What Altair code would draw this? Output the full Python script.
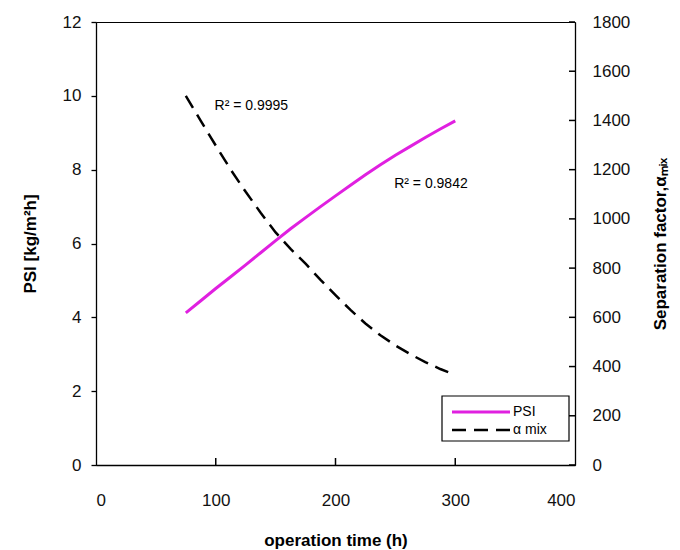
import altair as alt
import pandas as pd

# ---- data ----
hours = [75, 87.5, 100, 112.5, 125, 137.5, 150, 162.5, 175, 187.5, 200,
         212.5, 225, 237.5, 250, 262.5, 275, 287.5, 300]
psi = [4.12, 4.45, 4.78, 5.10, 5.42, 5.75, 6.08, 6.40, 6.70, 7.00, 7.29,
       7.58, 7.86, 8.13, 8.39, 8.63, 8.87, 9.10, 9.32]
alpha_mix = [1500, 1398, 1298, 1200, 1110, 1025, 945, 878, 818, 752, 690,
             630, 575, 527, 486, 450, 418, 390, 366]

x_label_values = [0, 100, 200, 300, 400]
x_inner_ticks = [100, 200, 300]
psi_ticks = [0, 2, 4, 6, 8, 10, 12]
alpha_ticks = [0, 200, 400, 600, 800, 1000, 1200, 1400, 1600, 1800]

ann_labels = ["R² = 0.9995", "R² = 0.9842"]
ann_h = [99, 249]
ann_psi = [9.72, 7.61]

legend_labels = ["PSI", "α mix"]

W, H = 479, 443
FONT = "Liberation Sans"
MAGENTA = "#E020E0"

df = pd.DataFrame({"h": hours, "psi": psi, "alpha": alpha_mix})

xscale = alt.Scale(domain=[0, 400], nice=False)
psi_scale = alt.Scale(domain=[0, 12], nice=False)
alpha_scale = alt.Scale(domain=[0, 1800], nice=False)

STYLE = dict(labelFont=FONT, labelFontSize=17, labelColor="#111",
             titleFont=FONT, titleFontSize=17, titleFontWeight="bold",
             titleColor="black", domainColor="black", domainWidth=1.3,
             tickColor="black", tickWidth=1.3, grid=False)

xaxis = alt.Axis(title="operation time (h)", values=x_label_values, tickSize=0,
                 labelPadding=27, titlePadding=24, **STYLE)


def X(field):
    return alt.X(field, type="quantitative", scale=xscale, axis=xaxis)


psi_line = alt.Chart(df).mark_line(color=MAGENTA, strokeWidth=3).encode(
    x=X("h"),
    y=alt.Y("psi:Q", scale=psi_scale,
            axis=alt.Axis(title="PSI [kg/m²h]", values=psi_ticks, tickSize=5,
                          labelPadding=10, titlePadding=23, **STYLE)),
)

alpha_line = alt.Chart(df).mark_line(color="black", strokeWidth=2.5,
                                     strokeDash=[14, 8]).encode(
    x=X("h"),
    y=alt.Y("alpha:Q", scale=alpha_scale,
            axis=alt.Axis(title="Separation factor,αₘᵢₓ", orient="right",
                          values=alpha_ticks, format="d", tickSize=0,
                          labelPadding=17, titlePadding=40, titleAngle=270,
                          **STYLE)),
)

# inward tick marks (bottom and right axes)
xt = pd.DataFrame({"xt": x_inner_ticks})
x_ticks = alt.Chart(xt).mark_rule(color="black", strokeWidth=1.5).encode(
    x=X("xt"), y=alt.value(H - 7), y2=alt.value(H))

at = pd.DataFrame({"at": alpha_ticks})
a_ticks = alt.Chart(at).mark_rule(color="black", strokeWidth=1.5).encode(
    y=alt.Y("at:Q", scale=alpha_scale, axis=None),
    x=alt.value(W - 6), x2=alt.value(W))

ann = pd.DataFrame({"label": ann_labels, "h": ann_h, "psi": ann_psi})
ann_text = alt.Chart(ann).mark_text(align="left", baseline="middle",
                                    fontSize=14, font=FONT, color="black").encode(
    x=X("h"), y=alt.Y("psi:Q", scale=psi_scale, axis=None), text="label:N")

# manual legend
one = pd.DataFrame({"a": [0]})
leg_box = alt.Chart(one).mark_rect(fill="white", stroke="black", strokeWidth=1.2).encode(
    x=alt.value(346), x2=alt.value(473), y=alt.value(374), y2=alt.value(419))
leg_psi = alt.Chart(one).mark_rule(color=MAGENTA, strokeWidth=3).encode(
    x=alt.value(356), x2=alt.value(414), y=alt.value(390))
leg_alpha = alt.Chart(one).mark_rule(color="black", strokeWidth=2.5,
                                     strokeDash=[14, 8]).encode(
    x=alt.value(356), x2=alt.value(414), y=alt.value(408))
leg_df = pd.DataFrame({"label": legend_labels, "row": [0, 1]})
leg_text1 = alt.Chart(leg_df.iloc[[0]]).mark_text(
    align="left", baseline="middle", fontSize=14, font=FONT).encode(
    x=alt.value(417), y=alt.value(390), text="label:N")
leg_text2 = alt.Chart(leg_df.iloc[[1]]).mark_text(
    align="left", baseline="middle", fontSize=14, font=FONT).encode(
    x=alt.value(417), y=alt.value(408), text="label:N")

chart = alt.layer(
    psi_line, alpha_line, ann_text,
    leg_box, leg_psi, leg_alpha, leg_text1, leg_text2,
    x_ticks, a_ticks,
).resolve_scale(y="independent").properties(
    width=W, height=H,
    autosize=alt.AutoSizeParams(type="none"),
    padding={"left": 96, "top": 22, "right": 105, "bottom": 85},
).configure_view(
    stroke="black"
)

chart.save("out.html", embed_options={"renderer": "svg", "actions": False})
